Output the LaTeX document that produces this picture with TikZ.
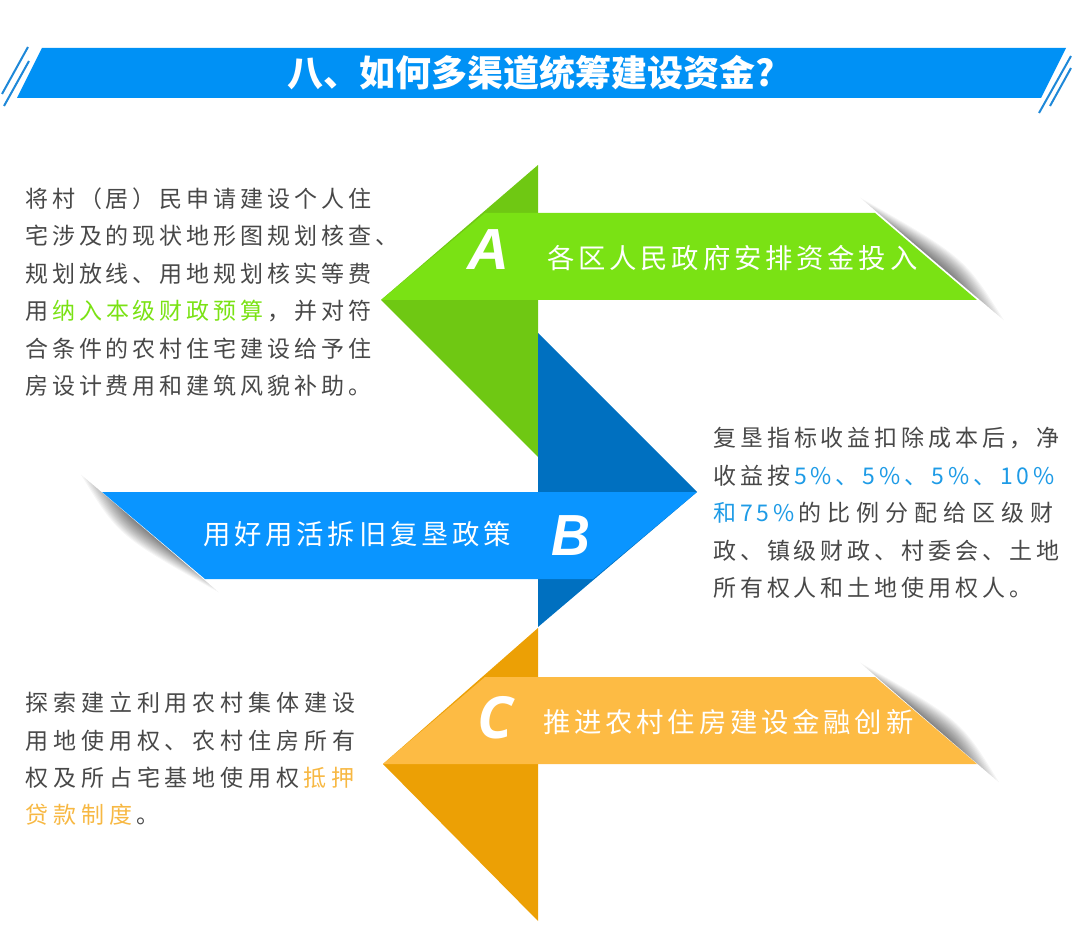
\documentclass[tikz,border=0pt]{standalone}
\usepackage{fontspec}
\usetikzlibrary{calc}
\newfontfamily\bodyfont[LetterSpace=17]{Noto Sans CJK SC}
\newfontfamily\widefont[LetterSpace=26]{Noto Sans CJK SC}
\newfontfamily\lowerfont[LetterSpace=21.5]{Noto Sans CJK SC}
\newfontfamily\bandfont[LetterSpace=14]{Noto Sans CJK SC}
\newfontfamily\titlefont{Noto Sans CJK SC}
\newfontfamily\letterfont{Liberation Sans}
\newfontfamily\cfont{Open Sans}
\definecolor{titleblue}{HTML}{0091F5}
\definecolor{stripeblue}{HTML}{1E88D8}
\definecolor{bodygray}{HTML}{484848}
\definecolor{greenband}{HTML}{7AE214}
\definecolor{greendark}{HTML}{6FC813}
\definecolor{blueband}{HTML}{0A95FF}
\definecolor{bluedark}{HTML}{0070C0}
\definecolor{orangeband}{HTML}{FDBB44}
\definecolor{orangedark}{HTML}{ECA005}
\definecolor{bluetext}{HTML}{1E9BE6}
\definecolor{orangetext}{HTML}{F7B843}
% gap lost where the text colour changes
\newcommand{\cgap}{\kern3pt}
% soft shadow beside the cut end of a band
\newcommand{\bandshadow}[2]{
    \foreach \k in {1,...,16} {
        \fill[black, opacity=0.04]
        ($(#1)!\k*0.02!(#2)$) .. controls ($(#1)!0.62!(#2)!{(17-\k)*1.4*0.75pt}!90:(#2)$) .. ($(#2)!\k*0.02!(#1)$) -- cycle;
    }
}
\begin{document}
\begin{tikzpicture}[
        x=0.75pt, y=-0.75pt,
        stripe/.style={stripeblue, line width=1.5pt},
        bodytxt/.style={anchor=west, inner sep=0pt, align=left, text=bodygray, font=\bodyfont\fontsize{17.25}{28.1}\selectfont},
        lowertxt/.style={bodytxt, font=\lowerfont\fontsize{17.25}{28.1}\selectfont},
        bandtxt/.style={anchor=west, inner sep=0pt, text=white, font=\bandfont\fontsize{20.5}{24}\selectfont},
        bandletter/.style={inner sep=0pt, text=white, font=\letterfont\bfseries\itshape\fontsize{43.5}{44}\selectfont},
    ]
    \useasboundingbox (0,0) rectangle (1080,930);

    % title bar
    \fill[titleblue] (42,48) -- (1066,48) -- (1041,98) -- (17,98) -- cycle;
    \draw[stripe] (28,47) -- (2,94);
    \draw[stripe] (29,61) -- (4,106);
    \draw[stripe] (1071,56) -- (1039,113);
    \draw[stripe] (1071,68) -- (1050,106);
    \node[text=white, inner sep=0pt, font=\titlefont\bfseries\fontsize{27}{30}\selectfont] (title) at (531,73) {八、如何多渠道统筹建设资金?};

    % shadows
    \bandshadow{857,195}{1007,323}
    \bandshadow{222,595}{78,472}
    \bandshadow{857,660}{1002,785}

    % arrow A
    \fill[greendark] (538,165) -- (381,300) -- (538,457) -- cycle;
    \fill[greenband] (381,300) -- (485,213) -- (875,213) -- (977,300) -- cycle;
    % arrow B
    \fill[bluedark] (538,333) -- (697,492) -- (538,627) -- cycle;
    \fill[blueband] (697,492) -- (593,579) -- (205,579) -- (102,492) -- cycle;
    % arrow C
    \fill[orangedark] (538,628) -- (383,764) -- (538,921) -- cycle;
    \fill[orangeband] (383,764) -- (485,677) -- (875,677) -- (977,764) -- cycle;

    \node[bandletter] (la) at (488,250) {A};
    \node[bandletter, xscale=0.93] (lb) at (571,536) {B};
    \node[bandletter, font=\cfont\bfseries\itshape\fontsize{43.5}{44}\selectfont] (lc) at (495,718) {C};

    \node[bandtxt] (ta) at (547,258) {各区人民政府安排资金投入};
    \node[bandtxt] (tb) at (203,534) {用好用活拆旧复垦政策};
    \node[bandtxt] (tc) at (543,722) {推进农村住房建设金融创新};

    % paragraphs
    \node[bodytxt] (pa) at (25,292) {将村（居）民申请建设个人住\\
        宅涉及的现状地形图规划核查、\\
        规划放线、用地规划核实等费\\
        用\cgap\textcolor{greenband}{纳入本级财政预算}\cgap，并对符\\
        合条件的农村住宅建设给予住\\
        房设计费用和建筑风貌补助。};
    \node[bodytxt] (pb) at (713,513) {复垦指标收益扣除成本后，净\\
        收益按\cgap\textcolor{bluetext}{5\%、5\%、5\%、10\%}\\
        \textcolor{bluetext}{和\cgap 75\%}\cgap{\widefont 的比例分配给区级财}\\
        政、镇级财政、村委会、土地\\
        所有权人和土地使用权人。};
    \node[lowertxt] (pc) at (25,759) {探索建立利用农村集体建设\\
        用地使用权、农村住房所有\\
        权及所占宅基地使用权\cgap\textcolor{orangetext}{抵押}\\
        \textcolor{orangetext}{贷款制度}\cgap 。};
\end{tikzpicture}
\end{document}
